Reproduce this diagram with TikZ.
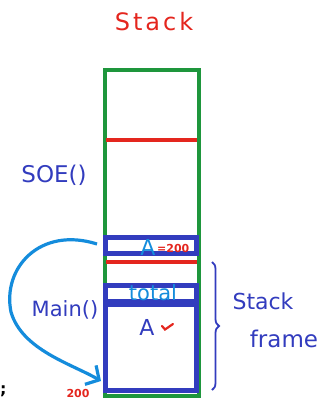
\documentclass[tikz,border=0pt]{standalone}
\usepackage{fontspec}
\setmainfont{DejaVu Sans}
\usetikzlibrary{arrows.meta,decorations.pathreplacing}
\definecolor{hred}{RGB}{228,38,30}
\definecolor{hgreen}{RGB}{30,150,60}
\definecolor{hblue}{RGB}{50,60,190}
\definecolor{hcyan}{RGB}{20,140,220}
\tikzset{
  lbl/.style={inner sep=0pt, anchor=center},
  wall/.style={line width=4pt},
  bwall/.style={line width=5pt},
}
\begin{document}
\begin{tikzpicture}[x=1pt,y=-1pt]
\useasboundingbox (0,0) rectangle (321,400);
% title
\node[lbl, text=hred, font=\fontsize{24}{28}\selectfont] (title) at (154,22) {S\kern3pt t\kern3pt a\kern3pt c\kern3pt k};
% stack outline
\draw[wall, hgreen] (104.5,70) rectangle (199,395.5);
% red divider top
\draw[wall, hred] (106,140) coordinate (r1a) -- (197,140) coordinate (r1b);
% A=200 box
\draw[bwall, hblue] (105.5,237.5) rectangle (196.5,253.5);
\draw[wall, hred] (106,262) coordinate (r2a) -- (197,262) coordinate (r2b);
% frame box
\draw[bwall, hblue] (105.5,285.5) rectangle (196.5,390.5);
\draw[line width=8pt, hblue] (105,303) -- (197,303);
% texts
\node[lbl, text=hblue, font=\fontsize{23}{26}\selectfont] (soe) at (54,175) {SOE()};
\node[lbl, text=hblue, font=\fontsize{21}{24}\selectfont] (main) at (65,310) {Main()};
\node[lbl, text=hcyan, font=\fontsize{22}{24}\selectfont] (a1) at (148,247) {A};
\node[lbl, text=hred, font=\bfseries\fontsize{11}{12}\selectfont, anchor=west] (v200) at (157,248) {=200};
\node[lbl, text=hcyan, font=\fontsize{21}{22}\selectfont] (total) at (153,293) {total};
\node[lbl, text=hblue, font=\fontsize{22}{24}\selectfont] (a2) at (147,327) {A};
\draw[hred, line width=2.2pt, line cap=round] (162,326) -- (165,329.5) -- (173,324);
\node[lbl, text=hred, font=\bfseries\fontsize{11}{12}\selectfont] (n200) at (78,393) {200};
\node[lbl, font=\bfseries\fontsize{16}{18}\selectfont, anchor=west] (semi) at (0,391) {;};
% brace
\draw[hblue, line width=1.8pt, decorate, decoration={brace, amplitude=7pt}] (212,262) coordinate (bt) -- (212,390) coordinate (bb);
\node[lbl, text=hblue, font=\fontsize{22}{24}\selectfont] (sf1) at (263,301) {Stack};
\node[lbl, text=hblue, font=\fontsize{23}{26}\selectfont] (sf2) at (284,339) {frame};
% arrow
\coordinate (as) at (97,244);
\coordinate (ae) at (101,381);
\draw[hcyan, line width=3.2pt, -{Straight Barb[length=10pt,width=22pt]}] (as) .. controls (40,226) and (2,268) .. (11,312) .. controls (22,350) and (72,364) .. (ae);
\end{tikzpicture}
\end{document}
